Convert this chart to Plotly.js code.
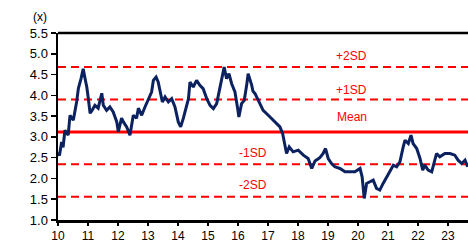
<!DOCTYPE html>
<html>
<head>
<meta charset="utf-8">
<script src="https://cdn.plot.ly/plotly-3.0.1.min.js"></script>
<style>html,body{margin:0;padding:0;background:#fff;}#chart{width:468px;height:244px;}</style>
</head>
<body>
<div id="chart"></div>
<script>
// Dates as decimal years, values as multiples (x)
const dates = [2010.00,2010.05,2010.12,2010.17,2010.23,2010.34,2010.40,2010.51,2010.62,2010.68,2010.77,2010.84,2010.90,2010.96,2011.01,2011.07,2011.14,2011.23,2011.34,2011.46,2011.51,2011.62,2011.73,2011.84,2011.96,2012.01,2012.12,2012.18,2012.29,2012.40,2012.51,2012.62,2012.68,2012.79,2012.90,2013.01,2013.12,2013.18,2013.27,2013.34,2013.40,2013.48,2013.57,2013.68,2013.79,2013.90,2014.01,2014.09,2014.18,2014.29,2014.35,2014.40,2014.51,2014.62,2014.73,2014.84,2014.96,2015.07,2015.18,2015.29,2015.40,2015.48,2015.54,2015.62,2015.70,2015.79,2015.90,2015.99,2016.03,2016.12,2016.21,2016.29,2016.34,2016.46,2016.50,2016.57,2016.68,2016.84,2017.01,2017.12,2017.29,2017.40,2017.49,2017.57,2017.62,2017.71,2017.84,2018.01,2018.18,2018.34,2018.46,2018.57,2018.73,2018.84,2018.92,2019.01,2019.12,2019.23,2019.40,2019.57,2019.73,2019.90,2020.07,2020.14,2020.21,2020.29,2020.40,2020.51,2020.62,2020.73,2020.84,2020.96,2021.07,2021.18,2021.29,2021.40,2021.51,2021.57,2021.68,2021.77,2021.84,2021.96,2022.07,2022.16,2022.23,2022.34,2022.46,2022.57,2022.62,2022.73,2022.90,2023.07,2023.23,2023.34,2023.46,2023.57,2023.66];
const values = [2.63,2.55,2.88,2.75,3.16,3.04,3.52,3.40,3.84,4.17,4.41,4.64,4.41,4.20,3.93,3.57,3.64,3.76,3.69,4.05,3.76,3.64,3.72,3.60,3.36,3.12,3.45,3.36,3.24,3.04,3.52,3.45,3.69,3.52,3.72,3.88,4.08,4.36,4.44,4.32,4.08,3.84,3.96,3.84,3.92,3.72,3.36,3.24,3.45,3.76,3.92,4.32,4.20,4.36,4.24,4.16,3.92,3.76,3.68,3.80,4.16,4.48,4.68,4.40,4.52,4.28,4.08,3.68,3.48,3.80,3.88,4.24,4.52,4.24,4.10,4.04,3.88,3.64,3.52,3.44,3.32,3.24,3.08,2.80,2.60,2.76,2.64,2.68,2.56,2.48,2.24,2.42,2.50,2.60,2.72,2.48,2.36,2.28,2.24,2.16,2.16,2.16,2.24,2.04,1.52,1.88,1.92,1.96,1.76,1.72,1.88,2.04,2.20,2.32,2.28,2.40,2.76,2.92,2.84,3.04,2.84,2.72,2.48,2.20,2.32,2.20,2.16,2.52,2.60,2.52,2.60,2.60,2.56,2.44,2.36,2.44,2.28];

const bandNames = ['+2SD','+1SD','Mean','-1SD','-2SD'];
const bandLevels = [4.68, 3.90, 3.12, 2.34, 1.56];
const labelX = [2019.77, 2019.77, 2019.8, 2016.5, 2016.5];
const labelY = [4.94, 4.12, 3.47, 2.61, 1.84];

const tickYears = [2010,2011,2012,2013,2014,2015,2016,2017,2018,2019,2020,2021,2022,2023];
const tickText = ['10','11','12','13','14','15','16','17','18','19','20','21','22','23'];
const yTicks = [1.0,1.5,2.0,2.5,3.0,3.5,4.0,4.5,5.0,5.5];

const FONT = 'Liberation Sans, Arial, sans-serif';

const shapes = bandLevels.map((lv, i) => ({
  type: 'line', xref: 'paper', x0: 0, x1: 1, yref: 'y', y0: lv, y1: lv,
  line: {color: '#ff0000', width: bandNames[i] === 'Mean' ? 3 : 2, dash: bandNames[i] === 'Mean' ? 'solid' : '8px,5px'},
  layer: 'below'
}));
shapes.push({type: 'line', xref: 'paper', x0: 0, x1: 1, yref: 'paper', y0: 1, y1: 1, line: {color: '#000', width: 2.5}});

const annotations = bandNames.map((n, i) => ({
  x: labelX[i], y: labelY[i], xref: 'x', yref: 'y', text: n, showarrow: false,
  font: {family: FONT, size: 12, color: '#ff0000'}
}));
annotations.push({
  x: (40 - 58) / 410, y: 1 + (33 - 17) / 187, xref: 'paper', yref: 'paper',
  xanchor: 'center', yanchor: 'middle', text: '(x)', showarrow: false,
  font: {family: FONT, size: 12, color: '#000'}
});

const trace = {
  x: dates, y: values, type: 'scatter', mode: 'lines',
  line: {color: '#0b2160', width: 3}, hoverinfo: 'skip'
};

const layout = {
  width: 468, height: 244,
  margin: {l: 58, r: 0, t: 33, b: 24, pad: 0},
  paper_bgcolor: '#fff', plot_bgcolor: '#fff',
  showlegend: false,
  xaxis: {
    range: [2010, 2023.67], tickvals: tickYears, ticktext: tickText,
    showgrid: false, zeroline: false, showline: true, linecolor: '#000', linewidth: 2.5,
    ticks: 'outside', ticklen: 3, tickwidth: 1.5, tickcolor: '#000',
    tickfont: {family: FONT, size: 12, color: '#000'}
  },
  yaxis: {
    range: [1, 5.5], tickvals: yTicks, ticktext: yTicks.map(v => v.toFixed(1)),
    showgrid: false, zeroline: false, showline: true, linecolor: '#000', linewidth: 2.5,
    ticks: 'outside', ticklen: 5, tickwidth: 1.5, tickcolor: '#000',
    tickfont: {family: FONT, size: 13, color: '#000'}
  },
  shapes: shapes,
  annotations: annotations
};

Plotly.newPlot('chart', [trace], layout, {staticPlot: true, displayModeBar: false});
</script>
</body>
</html>
